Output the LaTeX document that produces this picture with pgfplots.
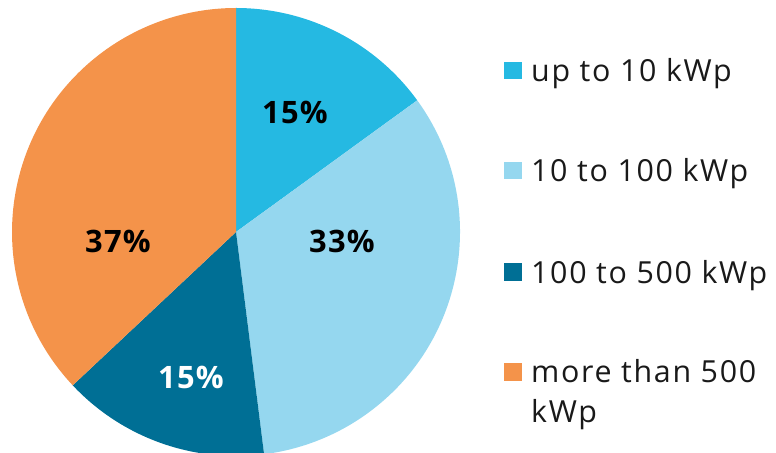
\documentclass[border=0pt]{standalone}
\usepackage{pgfplots}
\usepackage{pgfplotstable}
\usepackage{fontspec}
\pgfplotsset{compat=1.18}
\setmainfont{Open Sans}
\newfontfamily\legfont[LetterSpace=4]{Open Sans}
\newfontfamily\legfontw[LetterSpace=5.5]{Open Sans}

\definecolor{c1}{HTML}{25B9E2}
\definecolor{c2}{HTML}{95D7EF}
\definecolor{c3}{HTML}{006F95}
\definecolor{c4}{HTML}{F4934A}

\tikzset{
  pct/.style={font=\legfont\fontsize{31}{36}\selectfont\bfseries, inner sep=0pt},
  leg/.style={font=\legfontw\fontsize{30.5}{39}\selectfont, anchor=base west, inner sep=0pt, text=black!90},
}

% share in percent, clockwise from 12 o'clock
\pgfplotstableread{
share color
15 c1
33 c2
15 c3
37 c4
}\piedata

\begin{document}
\begin{tikzpicture}
  \begin{axis}[
      width=776bp, height=453bp,
      scale only axis,
      hide axis,
      xmin=0, xmax=776,
      ymin=0, ymax=453,
      clip=true,
    ]
    % wedges
    \def\angA{90}
    \pgfplotsforeachungrouped \i in {0,...,3} {
      \pgfplotstablegetelem{\i}{share}\of\piedata \let\v\pgfplotsretval
      \pgfplotstablegetelem{\i}{color}\of\piedata \let\c\pgfplotsretval
      \pgfmathsetmacro\angB{\angA-3.6*\v}
      \edef\temp{\noexpand\fill[\c] (axis cs:236,221) -- ++(\angA:224bp)
        arc[start angle=\angA, end angle=\angB, radius=224bp] -- cycle;}
      \temp
      \let\angA\angB
    }

    % percentages
    \node[pct] at (axis cs:295,341) {15\%};
    \node[pct] at (axis cs:342,212) {33\%};
    \node[pct, white] at (axis cs:191,76) {15\%};
    \node[pct] at (axis cs:118,212) {37\%};

    % legend
    \fill[c1] (axis cs:504,374) rectangle (axis cs:522,391);
    \fill[c2] (axis cs:504,274) rectangle (axis cs:522,291);
    \fill[c3] (axis cs:504,172) rectangle (axis cs:522,190);
    \fill[c4] (axis cs:504,72) rectangle (axis cs:522,90);
    \node[leg] at (axis cs:531,371) {up to 10 kWp};
    \node[leg] at (axis cs:531,271) {10 to 100 kWp};
    \node[leg] at (axis cs:531,169.5) {100 to 500 kWp};
    \node[leg] at (axis cs:531,70) {more than 500};
    \node[leg] at (axis cs:531,31) {kWp};
  \end{axis}
  \pgfresetboundingbox
  \path (current axis.south west) rectangle (current axis.north east);
\end{tikzpicture}
\end{document}
